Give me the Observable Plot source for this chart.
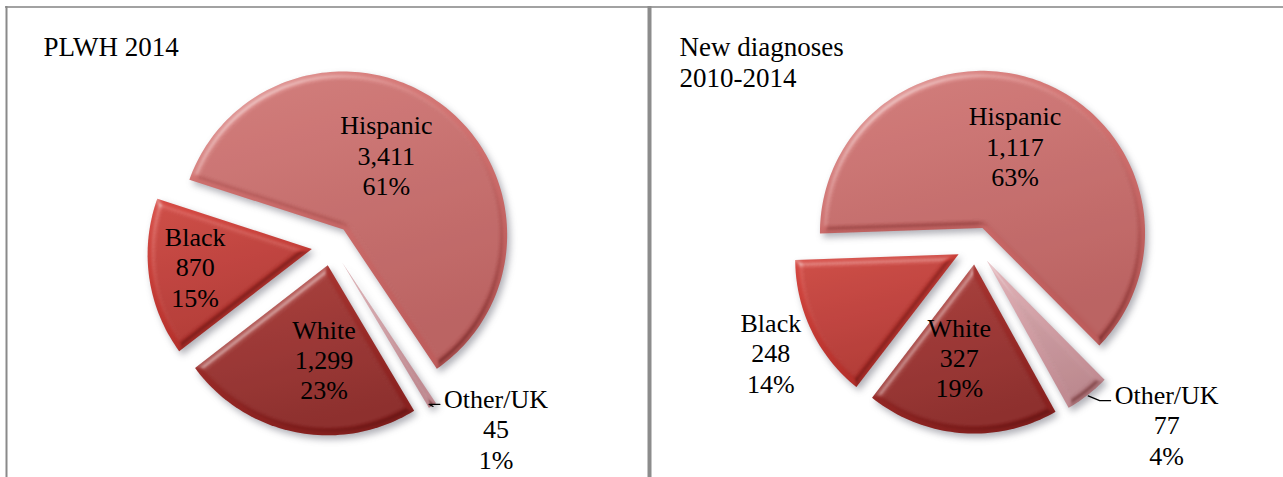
<!DOCTYPE html>
<html><head><meta charset="utf-8">
<script src="https://cdn.jsdelivr.net/npm/d3@7"></script>
<script src="https://cdn.jsdelivr.net/npm/@observablehq/plot@0.6"></script>
<style>
body{margin:0;background:#fff;}
#chart svg{display:block;}
</style>
</head><body><div id="chart"></div>
<script>
// ---- data ----
const categories = ["Hispanic", "Other/UK", "White", "Black"];
const plwhValues = [3411, 45, 1299, 870];
const plwhPercents = ["61%", "1%", "23%", "15%"];
const newDxValues = [1117, 77, 327, 248];
const newDxPercents = ["63%", "4%", "19%", "14%"];
const panelTitles = ["PLWH 2014", "New diagnoses\n2010-2014"];

// ---- layout / style ----
const W = 1283, H = 477;
const FONT = "'Liberation Serif', 'Times New Roman', serif";
const LABEL_FS = 26, LABEL_LH = 1.17, TITLE_FS = 27;
const colors = {
  "Hispanic": ["#db7e7c", "#bf5e5d"],
  "Other/UK": ["#e2b3b8", "#c18b92"],
  "White":    ["#ad3834", "#8a2220"],
  "Black":    ["#d6463f", "#b4302b"]
};
const panels = [
  {values: plwhValues, pcts: plwhPercents, title: panelTitles[0], titleX: 43,
   cx: 331, cy: 245, r: 164, explode: 20, start: -72,
   labels: {"Hispanic": [106, -6], "Other/UK": [246, -9.7], "White": [114, -7], "Black": [138, 1]}},
  {values: newDxValues, pcts: newDxPercents, title: panelTitles[1], titleX: 679,
   cx: 975, cy: 245, r: 163, explode: 19, start: -92,
   labels: {"Hispanic": [107, 0], "Other/UK": [262, -10], "White": [113, 4], "Black": [231, -0.4]}}
];
const PERSPECTIVE = 0.03;
const rad = Math.PI / 180;

const sliceMarks = [];
const textRows = [];
const leaderMarks = [];
const titleRows = [];

panels.forEach((p, pi) => {
  const rows = categories.map((c, i) => ({cat: c, value: p.values[i], pct: p.pcts[i]}));
  const arcs = d3.pie().sort(null).value(d => d.value)
    .startAngle(p.start * rad).endAngle(p.start * rad + 2 * Math.PI)(rows);
  const proj = (px, py) => {
    const k = 1 + PERSPECTIVE * py / p.r;
    return {x: p.cx + px * k, y: p.cy + py * k};
  };
  arcs.forEach(a => {
    const mid = (a.startAngle + a.endAngle) / 2;
    const ox = p.explode * Math.sin(mid), oy = -p.explode * Math.cos(mid);
    const pts = [proj(ox, oy)];
    const n = Math.max(4, Math.ceil((a.endAngle - a.startAngle) / (Math.PI / 120)));
    for (let i = 0; i <= n; i++) {
      const t = a.startAngle + (a.endAngle - a.startAngle) * i / n;
      pts.push(proj(ox + p.r * Math.sin(t), oy - p.r * Math.cos(t)));
    }
    pts.push(proj(ox, oy));
    sliceMarks.push(Plot.line(pts, {x: "x", y: "y", fill: `url(#grad-${a.data.cat.replace("/", "")})`,
      stroke: "none", className: "slice"}));

    const [rho, shift] = p.labels[a.data.cat];
    const th = mid + shift * rad;
    const lx = p.cx + rho * Math.sin(th), ly = p.cy - rho * Math.cos(th);
    textRows.push({x: lx, y: ly, text: `${a.data.cat}\n${d3.format(",")(a.data.value)}\n${a.data.pct}`});

    if (a.data.cat === "Other/UK") {
      // leader line from the slice tip to the outside label
      const tip = proj(ox + (p.r + 1) * Math.sin(mid), oy - (p.r + 1) * Math.cos(mid));
      const firstBaseline = ly - LABEL_LH * LABEL_FS + 0.32 * LABEL_FS;
      const left = lx - 2.0 * LABEL_FS;
      leaderMarks.push(Plot.line([tip, {x: left - 15, y: firstBaseline - 2}, {x: left - 4, y: firstBaseline - 2}],
        {x: "x", y: "y", stroke: "#000", strokeWidth: 1.2}));
    }
  });
  titleRows.push({x: p.titleX, y: 33, text: p.title});
});

const chart = Plot.plot({
  width: W, height: H, margin: 0,
  x: {domain: [0, W], range: [0, W], axis: null},
  y: {domain: [0, H], range: [0, H], axis: null},
  style: {fontFamily: FONT, background: "#fff", color: "#000"},
  marks: [
    // panel borders
    Plot.ruleY([6.5], {x1: 5, x2: W, stroke: "#a2a2a2", strokeWidth: 2}),
    Plot.ruleX([6], {y1: 6, y2: H, stroke: "#8a8a8a", strokeWidth: 2}),
    Plot.ruleX([649], {y1: 6, y2: H, stroke: "#8c8c8c", strokeWidth: 4}),
    ...sliceMarks,
    ...leaderMarks,
    Plot.text(textRows, {x: "x", y: "y", text: "text", fontSize: LABEL_FS, lineHeight: LABEL_LH,
      textAnchor: "middle", lineAnchor: "middle", fill: "#000"}),
    Plot.text(titleRows, {x: "x", y: "y", text: "text", fontSize: TITLE_FS, lineHeight: 1.15,
      textAnchor: "start", lineAnchor: "top", fill: "#000"})
  ]
});

// gradients + bevel/shadow filter
const grads = categories.map(c => {
  const [t, b] = colors[c];
  return `<linearGradient id="grad-${c.replace("/", "")}" x1="0" y1="0" x2="0.3" y2="1">
    <stop offset="0" stop-color="${t}"/><stop offset="1" stop-color="${b}"/></linearGradient>`;
}).join("");
const filter = `<filter id="bevel" x="-15%" y="-15%" width="135%" height="135%" color-interpolation-filters="sRGB">
  <feGaussianBlur in="SourceAlpha" stdDeviation="3.5" result="blur"/>
  <feSpecularLighting in="blur" surfaceScale="4" specularConstant="1" specularExponent="18" lighting-color="#fff" result="hi">
    <feDistantLight azimuth="235" elevation="40"/></feSpecularLighting>
  <feColorMatrix in="hi" type="matrix" values="0 0 0 0 1  0 0 0 0 1  0 0 0 0 1  0 0 0 0.45 0" result="hiW"/>
  <feComposite in="hiW" in2="SourceAlpha" operator="in" result="hiIn"/>
  <feSpecularLighting in="blur" surfaceScale="4" specularConstant="1" specularExponent="18" lighting-color="#fff" result="lo">
    <feDistantLight azimuth="55" elevation="40"/></feSpecularLighting>
  <feColorMatrix in="lo" type="matrix" values="0 0 0 0 0.3  0 0 0 0 0.05  0 0 0 0 0.05  0 0 0 0.45 0" result="loD"/>
  <feComposite in="loD" in2="SourceAlpha" operator="in" result="loIn"/>
  <feOffset in="SourceAlpha" dx="3" dy="4" result="off"/>
  <feGaussianBlur in="off" stdDeviation="3.5" result="offBlur"/>
  <feFlood flood-color="#3a3a4a" flood-opacity="0.4"/>
  <feComposite in2="offBlur" operator="in" result="shadow"/>
  <feMerge><feMergeNode in="shadow"/><feMergeNode in="SourceGraphic"/><feMergeNode in="loIn"/><feMergeNode in="hiIn"/></feMerge>
</filter>`;
d3.select(chart).insert("defs", ":first-child").html(grads + filter);
d3.select(chart).selectAll("g.slice path").attr("filter", "url(#bevel)");

document.getElementById("chart").appendChild(chart);
</script>
</body></html>
